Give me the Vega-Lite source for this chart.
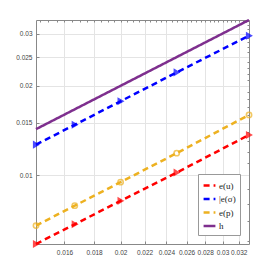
{
  "$schema": "https://vega.github.io/schema/vega-lite/v6.json",
  "width": 213,
  "height": 224,
  "autosize": {"type": "none"},
  "padding": {"left": 36, "top": 20, "right": 26, "bottom": 31},
  "background": "white",
  "data": {"values": [
    {"h": 0.014286, "s": "e(u)", "v": 0.00586},
    {"h": 0.016667, "s": "e(u)", "v": 0.00683},
    {"h": 0.02, "s": "e(u)", "v": 0.00819},
    {"h": 0.025, "s": "e(u)", "v": 0.0102},
    {"h": 0.033333, "s": "e(u)", "v": 0.01366},
    {"h": 0.014286, "s": "|e(σ)", "v": 0.01267},
    {"h": 0.016667, "s": "|e(σ)", "v": 0.01478},
    {"h": 0.02, "s": "|e(σ)", "v": 0.01774},
    {"h": 0.025, "s": "|e(σ)", "v": 0.0222},
    {"h": 0.033333, "s": "|e(σ)", "v": 0.0295},
    {"h": 0.014286, "s": "e(p)", "v": 0.00676},
    {"h": 0.016667, "s": "e(p)", "v": 0.00789},
    {"h": 0.02, "s": "e(p)", "v": 0.00947},
    {"h": 0.025, "s": "e(p)", "v": 0.01186},
    {"h": 0.033333, "s": "e(p)", "v": 0.01596},
    {"h": 0.014286, "s": "h", "v": 0.014286},
    {"h": 0.033333, "s": "h", "v": 0.033333}
  ]},
  "config": {
    "view": {"stroke": null},
    "axis": {"labelFont": "Liberation Sans", "labelFontSize": 6.5, "labelColor": "#444", "domainColor": "#888", "tickColor": "#888", "title": null}
  },
  "layer": [
    {
      "mark": {"type": "line", "strokeWidth": 2.5, "clip": false},
      "encoding": {
        "x": {"field": "h", "type": "quantitative", "scale": {"type": "log", "domain": [0.014286, 0.033333], "nice": false},
          "axis": {"orient": "bottom", "values": [0.016, 0.018, 0.02, 0.022, 0.024, 0.026, 0.028, 0.03, 0.032], "format": "~g", "gridColor": "#e4e4e4", "gridWidth": 1, "tickSize": -3, "labelPadding": 8, "domainColor": "#888"}},
        "y": {"field": "v", "type": "quantitative", "scale": {"type": "log", "domain": [0.00586, 0.033333], "nice": false},
          "axis": {"orient": "left", "values": [0.01, 0.015, 0.02, 0.025, 0.03], "format": "~g", "gridColor": "#e4e4e4", "gridWidth": 1, "tickSize": -3, "labelPadding": 7}},
        "color": {"field": "s", "type": "nominal", "sort": ["e(u)", "|e(σ)", "e(p)", "h"],
          "scale": {"domain": ["e(u)", "|e(σ)", "e(p)", "h"], "range": ["#ff0000", "#0000ff", "#EDB120", "#7E2F8E"]},
          "legend": {"title": null, "orient": "bottom-right", "offset": 9, "padding": 4, "strokeColor": "#999", "fillColor": "white", "labelFont": "Liberation Serif", "labelFontSize": 9, "labelColor": "#222", "symbolType": "stroke", "symbolSize": 140, "symbolStrokeWidth": 2.5, "rowPadding": 0.5, "labelOffset": 2}},
        "strokeDash": {"field": "s", "type": "nominal",
          "scale": {"domain": ["e(u)", "|e(σ)", "e(p)", "h"], "range": [[6, 4], [6, 4], [6, 4], [1, 0]]},
          "legend": {"title": null}}
      }
    },
    {
      "transform": [{"filter": "datum.s !== 'h'"}],
      "mark": {"type": "point", "filled": false, "clip": false, "strokeWidth": 1.6},
      "encoding": {
        "x": {"field": "h", "type": "quantitative",
          "axis": {"orient": "top", "values": [0.0145, 0.015, 0.0155, 0.016, 0.0165, 0.017, 0.0175, 0.018, 0.0185, 0.019, 0.0195, 0.02, 0.0205, 0.021, 0.0215, 0.022, 0.0225, 0.023, 0.0235, 0.024, 0.0245, 0.025, 0.0255, 0.026, 0.0265, 0.027, 0.0275, 0.028, 0.0285, 0.029, 0.0295, 0.03, 0.0305, 0.031, 0.0315, 0.032, 0.0325, 0.033], "labels": false, "gridColor": "#dddddd", "gridDash": [1, 2], "tickSize": -2}},
        "y": {"field": "v", "type": "quantitative",
          "axis": {"orient": "right", "values": [0.006, 0.007, 0.008, 0.009, 0.011, 0.012, 0.013, 0.014, 0.016, 0.017, 0.018, 0.019, 0.021, 0.022, 0.023, 0.024, 0.026, 0.027, 0.028, 0.029, 0.031, 0.032, 0.033], "labels": false, "gridColor": "#dddddd", "gridDash": [1, 2], "tickSize": -2}},
        "color": {"field": "s", "type": "nominal", "legend": null},
        "shape": {"field": "s", "type": "nominal", "legend": null,
          "scale": {"domain": ["e(u)", "|e(σ)", "e(p)"], "range": ["triangle-right", "triangle-right", "circle"]}},
        "fill": {"field": "s", "type": "nominal", "legend": null,
          "scale": {"domain": ["e(u)", "|e(σ)", "e(p)"], "range": ["#ff0000", "#0000ff", "transparent"]}},
        "size": {"value": 28}
      }
    }
  ],
  "resolve": {"axis": {"x": "independent", "y": "independent"}, "scale": {"fill": "independent"}}
}
